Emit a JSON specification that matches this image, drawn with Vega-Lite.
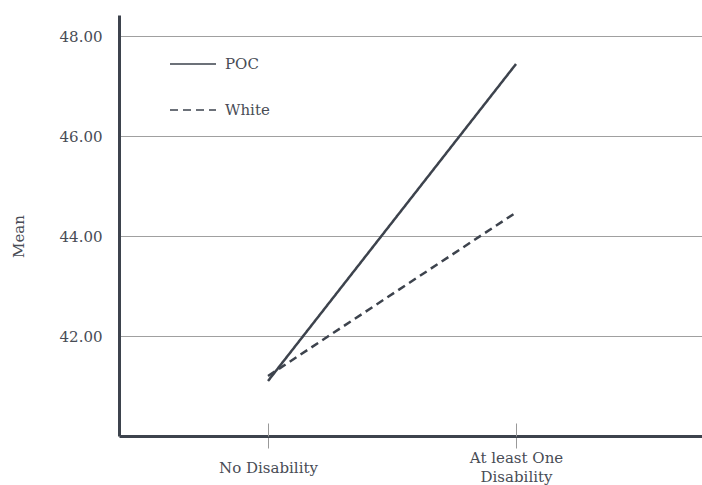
{
  "$schema": "https://vega.github.io/schema/vega-lite/v6.json",
  "width": 583,
  "height": 421,
  "autosize": {"type": "none"},
  "padding": {"left": 119, "top": 15, "right": 0, "bottom": 49},
  "config": {
    "view": {"stroke": null},
    "font": "DejaVu Serif",
    "axis": {"labelColor": "#484c55", "titleColor": "#484c55", "labelFont": "DejaVu Serif", "titleFont": "DejaVu Serif"}
  },
  "data": {
    "values": [
      {"disability": "No Disability", "race": "POC", "mean": 41.1},
      {"disability": "At least One Disability", "race": "POC", "mean": 47.44},
      {"disability": "No Disability", "race": "White", "mean": 41.2},
      {"disability": "At least One Disability", "race": "White", "mean": 44.47}
    ]
  },
  "layer": [
    {
      "mark": {"type": "line", "strokeWidth": 2.5, "color": "#3d434d"},
      "encoding": {
        "x": {
          "field": "disability", "type": "ordinal",
          "sort": ["No Disability", "At least One Disability"],
          "scale": {"type": "point", "padding": 0.6754, "align": 0.4448},
          "axis": {
            "title": null, "orient": "bottom", "domainColor": "#3d434d", "domainWidth": 3,
            "tickColor": "#999999", "tickWidth": 1, "tickSize": 12,
            "labelFontSize": 15, "labelAngle": 0, "labelBaseline": "middle",
            "labelPadding": {"condition": {"test": "datum.value == 'At least One Disability'", "value": 9}, "value": 19},
            "labelLineHeight": 19, "grid": false,
            "labelExpr": "datum.label == 'At least One Disability' ? ['At least One', 'Disability'] : datum.label"
          }
        },
        "y": {
          "field": "mean", "type": "quantitative",
          "scale": {"domain": [40, 48.42], "nice": false, "zero": false},
          "axis": {
            "values": [42, 44, 46, 48], "format": ".2f",
            "title": "Mean", "titleFontSize": 15, "titleFontWeight": "normal",
            "titleX": -101, "titleY": 221, "titleAngle": -90, "titleBaseline": "middle", "titleAlign": "center",
            "labelFontSize": 15, "labelPadding": 17, "ticks": false,
            "domainColor": "#3d434d", "domainWidth": 3,
            "grid": true, "gridColor": "#a0a0a0", "gridWidth": 1
          }
        },
        "strokeDash": {
          "field": "race", "type": "nominal",
          "scale": {"domain": ["POC", "White"], "range": [[1, 0], [8, 5]]},
          "legend": {
            "title": null, "orient": "none", "legendX": 50, "legendY": 25,
            "symbolType": "stroke", "symbolSize": 2116, "symbolStrokeWidth": 1.5,
            "symbolStrokeColor": "#3d434d", "labelFontSize": 15, "labelColor": "#484c55",
            "labelOffset": 8, "rowPadding": 14, "padding": 0
          }
        }
      }
    },
    {
      "mark": {"type": "line", "opacity": 0},
      "encoding": {
        "x": {
          "field": "disability", "type": "ordinal",
          "sort": ["No Disability", "At least One Disability"],
          "scale": {"type": "point", "padding": 0.6754, "align": 0.4448},
          "axis": {"title": null, "orient": "bottom", "domain": false, "labels": false, "grid": false, "tickColor": "#999999", "tickWidth": 1, "tickSize": -13}
        },
        "y": {"field": "mean", "type": "quantitative"},
        "detail": {"field": "race"}
      }
    }
  ],
  "resolve": {"axis": {"x": "independent"}}
}
